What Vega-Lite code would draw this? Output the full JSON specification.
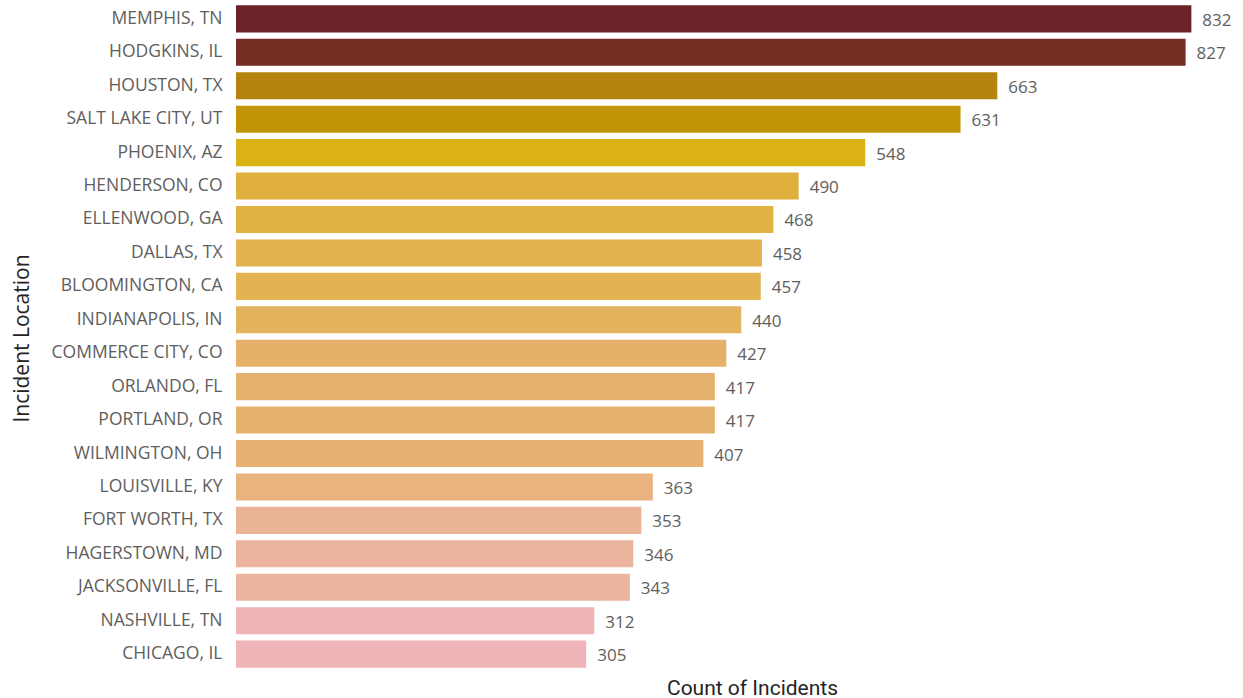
{
  "$schema": "https://vega.github.io/schema/vega-lite/v6.json",
  "width": 999,
  "height": 669,
  "autosize": {"type": "none"},
  "padding": {"left": 236, "top": 2, "right": 8, "bottom": 27},
  "background": "white",
  "config": {"view": {"stroke": null}},
  "data": {
    "values": [
      {"loc": "MEMPHIS, TN", "count": 832},
      {"loc": "HODGKINS, IL", "count": 827},
      {"loc": "HOUSTON, TX", "count": 663},
      {"loc": "SALT LAKE CITY, UT", "count": 631},
      {"loc": "PHOENIX, AZ", "count": 548},
      {"loc": "HENDERSON, CO", "count": 490},
      {"loc": "ELLENWOOD, GA", "count": 468},
      {"loc": "DALLAS, TX", "count": 458},
      {"loc": "BLOOMINGTON, CA", "count": 457},
      {"loc": "INDIANAPOLIS, IN", "count": 440},
      {"loc": "COMMERCE CITY, CO", "count": 427},
      {"loc": "ORLANDO, FL", "count": 417},
      {"loc": "PORTLAND, OR", "count": 417},
      {"loc": "WILMINGTON, OH", "count": 407},
      {"loc": "LOUISVILLE, KY", "count": 363},
      {"loc": "FORT WORTH, TX", "count": 353},
      {"loc": "HAGERSTOWN, MD", "count": 346},
      {"loc": "JACKSONVILLE, FL", "count": 343},
      {"loc": "NASHVILLE, TN", "count": 312},
      {"loc": "CHICAGO, IL", "count": 305}
    ]
  },
  "encoding": {
    "y": {
      "field": "loc",
      "type": "nominal",
      "sort": null,
      "scale": {"paddingInner": 0.19, "paddingOuter": 0.1},
      "axis": {
        "title": "Incident Location",
        "titleFont": "Open Sans",
        "titleFontSize": 21,
        "titleFontWeight": "normal",
        "titleColor": "#252423",
        "titleAngle": -90,
        "titleX": -214,
        "titleY": 336,
        "titleAlign": "center",
        "titleBaseline": "middle",
        "labelFont": "Open Sans",
        "labelFontSize": 17.5,
        "labelColor": "#605E5C",
        "labelPadding": 14,
        "ticks": false,
        "domain": false,
        "labelLimit": 300
      }
    },
    "x": {
      "field": "count",
      "type": "quantitative",
      "scale": {"domain": [0, 870], "nice": false},
      "axis": {
        "title": "Count of Incidents",
        "titleFont": "Roboto",
        "titleFontSize": 21,
        "titleFontWeight": "normal",
        "titleColor": "#252423",
        "titleX": 516,
        "titleY": 17,
        "titleAlign": "center",
        "titleBaseline": "middle",
        "labels": false,
        "ticks": false,
        "domain": false,
        "grid": false
      }
    }
  },
  "layer": [
    {
      "mark": {"type": "bar"},
      "encoding": {
        "color": {
          "field": "loc",
          "type": "nominal",
          "legend": null,
          "scale": {
            "domain": ["MEMPHIS, TN", "HODGKINS, IL", "HOUSTON, TX", "SALT LAKE CITY, UT", "PHOENIX, AZ", "HENDERSON, CO", "ELLENWOOD, GA", "DALLAS, TX", "BLOOMINGTON, CA", "INDIANAPOLIS, IN", "COMMERCE CITY, CO", "ORLANDO, FL", "PORTLAND, OR", "WILMINGTON, OH", "LOUISVILLE, KY", "FORT WORTH, TX", "HAGERSTOWN, MD", "JACKSONVILLE, FL", "NASHVILLE, TN", "CHICAGO, IL"],
            "range": ["#6B2228", "#742E24", "#B5840E", "#C29506", "#DBB216", "#E0B03F", "#E1B244", "#E2B34E", "#E2B350", "#E3B25C", "#E5B06A", "#E5B16E", "#E5B16E", "#E6B173", "#E8B37F", "#EAB393", "#EBB49D", "#EBB49F", "#EEB4B6", "#EFB5B9"]
          }
        }
      }
    },
    {
      "mark": {"type": "text", "align": "left", "baseline": "middle", "dx": 11, "dy": 2, "font": "Open Sans", "fontSize": 17, "color": "#605E5C"},
      "encoding": {"text": {"field": "count", "type": "quantitative"}}
    }
  ]
}
